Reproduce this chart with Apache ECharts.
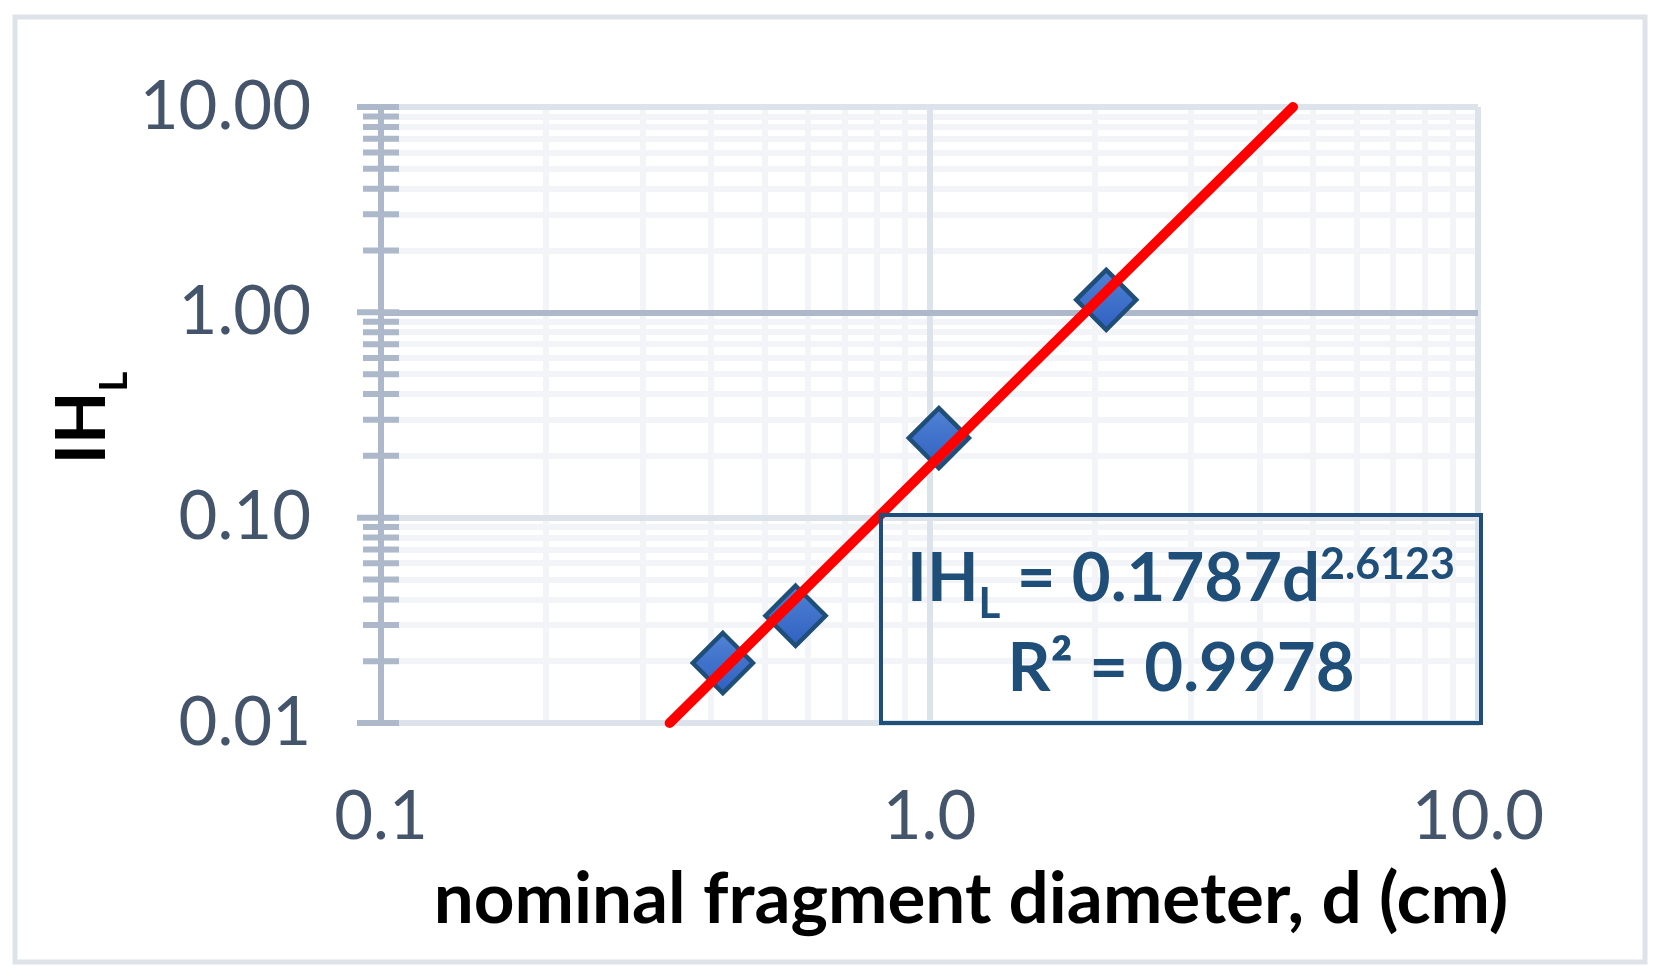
<!DOCTYPE html>
<html><head><meta charset="utf-8">
<script src="https://cdn.jsdelivr.net/npm/echarts@6/dist/echarts.min.js"></script>
<style>html,body{margin:0;padding:0;background:#fff}#c{width:1662px;height:976px}</style>
</head><body><div id="c"></div>
<script>
// ---- data ----
const diameters = [0.42, 0.57, 1.04, 2.10];
const ihL = [0.0196, 0.0333, 0.244, 1.15];
const trendX = [0.336, 4.6];
const trendY = [0.01, 10];
const xTicks = [0.1, 1, 10];
const xTickLabels = ['0.1', '1.0', '10.0'];
const yTicks = [0.01, 0.1, 1, 10];
const yTickLabels = ['0.01', '0.10', '1.00', '10.00'];
const xMinor = [0.2, 0.3, 0.4, 0.5, 0.6, 0.7, 0.8, 0.9, 2, 3, 4, 5, 6, 7, 8, 9];
const yMinor = [0.02, 0.03, 0.04, 0.05, 0.06, 0.07, 0.08, 0.09, 0.2, 0.3, 0.4, 0.5, 0.6, 0.7, 0.8, 0.9, 2, 3, 4, 5, 6, 7, 8, 9];
const r2Text = 'R² = 0.9978';

function labelFor(v, ticks, labels) {
  for (let i = 0; i < ticks.length; i++) {
    if (Math.abs(Math.log10(v) - Math.log10(ticks[i])) < 1e-6) return labels[i];
  }
  return '';
}
const FONT = 'Lato';
const chart = echarts.init(document.getElementById('c'), null, {renderer: 'canvas'});
const lightGrid = '#dde3ea';
const minorGrid = '#f2f4f7';
const axisDark = '#adb9ca';

chart.setOption({
  animation: false,
  backgroundColor: '#ffffff',
  grid: {left: 381, right: 184, top: 107, bottom: 253, containLabel: false},
  xAxis: {
    type: 'log', logBase: 10, min: 0.1, max: 10,
    axisLine: {show: true, onZero: false, lineStyle: {color: lightGrid, width: 6}},
    axisTick: {show: false},
    axisLabel: {
      show: true, margin: 61, fontSize: 67, fontFamily: FONT, color: '#44546a',
      showMinLabel: true, showMaxLabel: true,
      formatter: v => labelFor(v, xTicks, xTickLabels)
    },
    splitLine: {show: true, lineStyle: {color: lightGrid, width: 6}},
    minorTick: {show: false}, minorSplitLine: {show: false}
  },
  yAxis: {
    type: 'log', logBase: 10, min: 0.01, max: 10,
    axisLine: {show: true, onZero: false, lineStyle: {color: axisDark, width: 6}},
    axisTick: {show: false},
    axisLabel: {
      show: true, margin: 70, fontSize: 67, fontFamily: FONT, color: '#44546a',
      showMinLabel: true, showMaxLabel: true,
      formatter: v => labelFor(v, yTicks, yTickLabels)
    },
    splitLine: {show: true, lineStyle: {color: lightGrid, width: 6}},
    minorTick: {show: false}, minorSplitLine: {show: false}
  },
  series: [
    { // minor gridlines
      type: 'scatter', data: [], silent: true, z: 0,
      markLine: {
        z: -1, silent: true, animation: false, symbol: ['none', 'none'],
        label: {show: false}, emphasis: {disabled: true},
        lineStyle: {color: minorGrid, width: 6, type: 'solid', opacity: 1},
        data: xMinor.map(v => ({xAxis: v})).concat(yMinor.map(v => ({yAxis: v})))
      }
    },
    { // darker 1.00 gridline
      type: 'scatter', data: [], silent: true, z: 1,
      markLine: {
        z: 1, silent: true, animation: false, symbol: ['none', 'none'],
        label: {show: false}, emphasis: {disabled: true},
        lineStyle: {color: axisDark, width: 6, type: 'solid', opacity: 1},
        data: [{yAxis: yTicks[2]}]
      }
    },
    { // major y ticks (crossing)
      type: 'scatter', silent: true, z: 4, clip: false,
      symbol: 'rect', symbolSize: [42, 6], symbolOffset: [-3, 0],
      itemStyle: {color: axisDark, opacity: 1},
      data: yTicks.map(v => [xTicks[0], v])
    },
    { // minor y ticks (crossing)
      type: 'scatter', silent: true, z: 4, clip: false,
      symbol: 'rect', symbolSize: [36, 6], symbolOffset: [0, 0],
      itemStyle: {color: axisDark, opacity: 1},
      data: yMinor.map(v => [xTicks[0], v])
    },
    { // data points
      type: 'scatter', z: 5, clip: false,
      symbol: 'diamond', symbolSize: 60,
      itemStyle: {
        opacity: 1,
        color: new echarts.graphic.LinearGradient(0, 0, 0, 1, [
          {offset: 0, color: '#5284d6'}, {offset: 1, color: '#2f5fbf'}
        ]),
        borderColor: '#1f4e79', borderWidth: 4.5
      },
      emphasis: {disabled: true},
      data: diameters.map((d, i) => [d, ihL[i]])
    },
    { // power trendline
      type: 'line', z: 6, clip: false, showSymbol: false, symbol: 'none', silent: true,
      lineStyle: {color: '#ff0000', width: 10, cap: 'round', opacity: 1},
      data: trendX.map((x, i) => [x, trendY[i]])
    }
  ],
  graphic: [
    { type: 'rect', z: 100, silent: true,
      shape: {x: 15, y: 17, width: 1630, height: 945},
      style: {fill: 'none', stroke: '#dee3ea', lineWidth: 5} },
    { type: 'rect', z: 100, silent: true,
      shape: {x: 881, y: 515, width: 600, height: 208},
      style: {fill: 'none', stroke: '#1f4e79', lineWidth: 4} },
    { type: 'text', z: 101, silent: true, x: 1181, y: 624,
      style: {
        text: '{m|IH}{sub|L}{m| = 0.1787d}{sup|2.6123}\n{m|' + r2Text + '}',
        align: 'center', verticalAlign: 'middle',
        rich: {
          m: {fontFamily: FONT, fontWeight: 'bold', fontSize: 67, fill: '#1f4e79', lineHeight: 90, verticalAlign: 'middle'},
          sub: {fontFamily: FONT, fontWeight: 'bold', fontSize: 42, fill: '#1f4e79', lineHeight: 90, verticalAlign: 'middle', padding: [50, 0, 0, 0]},
          sup: {fontFamily: FONT, fontWeight: 'bold', fontSize: 43, fill: '#1f4e79', lineHeight: 90, verticalAlign: 'middle', padding: [0, 0, 27, 0]}
        }
      } },
    { type: 'text', z: 101, silent: true, x: 971, y: 900,
      style: {
        text: 'nominal fragment diameter, d (cm)',
        align: 'center', verticalAlign: 'middle',
        fontFamily: FONT, fontWeight: 'bold', fontSize: 71, fill: '#000000'
      } },
    { type: 'text', z: 101, silent: true, x: 83, y: 418, rotation: Math.PI / 2,
      style: {
        text: '{m|IH}{s|L}',
        align: 'center', verticalAlign: 'middle',
        rich: {
          m: {fontFamily: FONT, fontWeight: 'bold', fontSize: 68, fill: '#000000', lineHeight: 90, verticalAlign: 'middle'},
          s: {fontFamily: FONT, fontWeight: 'bold', fontSize: 38, fill: '#000000', lineHeight: 90, verticalAlign: 'middle', padding: [64, 0, 0, 0]}
        }
      } }
  ]
});
</script></body></html>
